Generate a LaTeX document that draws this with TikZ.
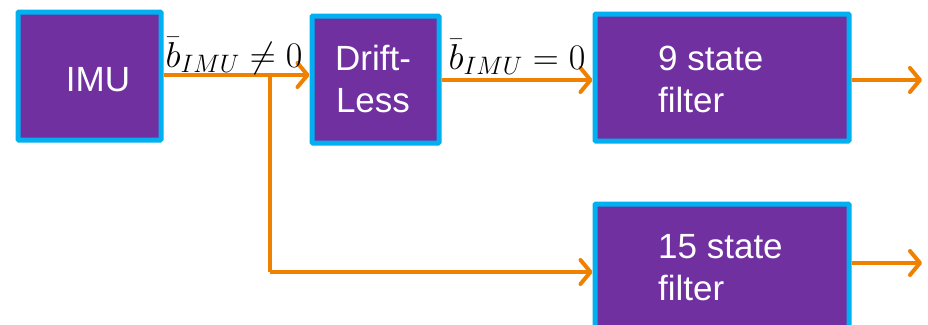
\RequirePackage{fix-cm}
\documentclass[tikz,border=0pt]{standalone}
\usepackage{fontspec}
\setmainfont{Liberation Sans}
\usetikzlibrary{arrows.meta}
\definecolor{boxfill}{HTML}{7030A0}
\definecolor{boxline}{HTML}{00B0F0}
\definecolor{flow}{RGB}{240,128,0}
\begin{document}
\begin{tikzpicture}[x=1pt,y=-1pt,
  blk/.style={draw=boxline,fill=boxfill,line width=5pt,rounded corners=1pt,inner sep=0pt,anchor=north west},
  txt/.style={text=white,font=\fontsize{35}{42}\selectfont,inner sep=0pt},
  flowline/.style={draw=flow,line width=4pt},
  flowarrow/.style={flowline,-{Straight Barb[length=10pt,width=24pt,round]}},
  lbl/.style={font=\fontsize{36}{40}\selectfont,inner sep=0pt,anchor=base}]
\useasboundingbox (0,0) rectangle (928,324);
% boxes
\node[blk,minimum width=143pt,minimum height=128pt] (imu) at (15.5,9.5) {};
\node[blk,minimum width=127pt,minimum height=127pt] (dl) at (309.5,13.5) {};
\node[blk,minimum width=254pt,minimum height=127pt] (s9) at (592.5,11.5) {};
\node[blk,minimum width=254pt,minimum height=140pt] (s15) at (592.5,201.5) {};
% texts
\node[txt] (timu) at (98,80) {IMU};
\node[txt,align=center] (tdl) at (373,79) {Drift-\\Less};
\node[txt,align=left,anchor=west] (t9) at (658,79) {9 state\\filter};
\node[txt,align=left,anchor=west] (t15) at (658,268) {15 state\\filter};
% connectors
\coordinate (br) at (270,75);
\coordinate (brd) at (270,272);
\coordinate (o9) at (922,80);
\coordinate (o15) at (922,263);
\draw[flowarrow] (imu.east |- br) -- (dl.west |- br);
\draw[flowline,line join=round] (br) -- (brd);
\draw[flowarrow] (brd) -- (s15.west |- brd);
\draw[flowarrow] (dl.east |- o9) -- (s9.west |- o9);
\draw[flowarrow] (s9.east |- o9) -- (o9);
\draw[flowarrow] (s15.east |- o15) -- (o15);
% labels
\node[lbl] (l1) at (234,67) {$\bar{b}_{IMU}\neq 0$};
\node[lbl] (l2) at (517,69) {$\bar{b}_{IMU}=0$};
\end{tikzpicture}
\end{document}
